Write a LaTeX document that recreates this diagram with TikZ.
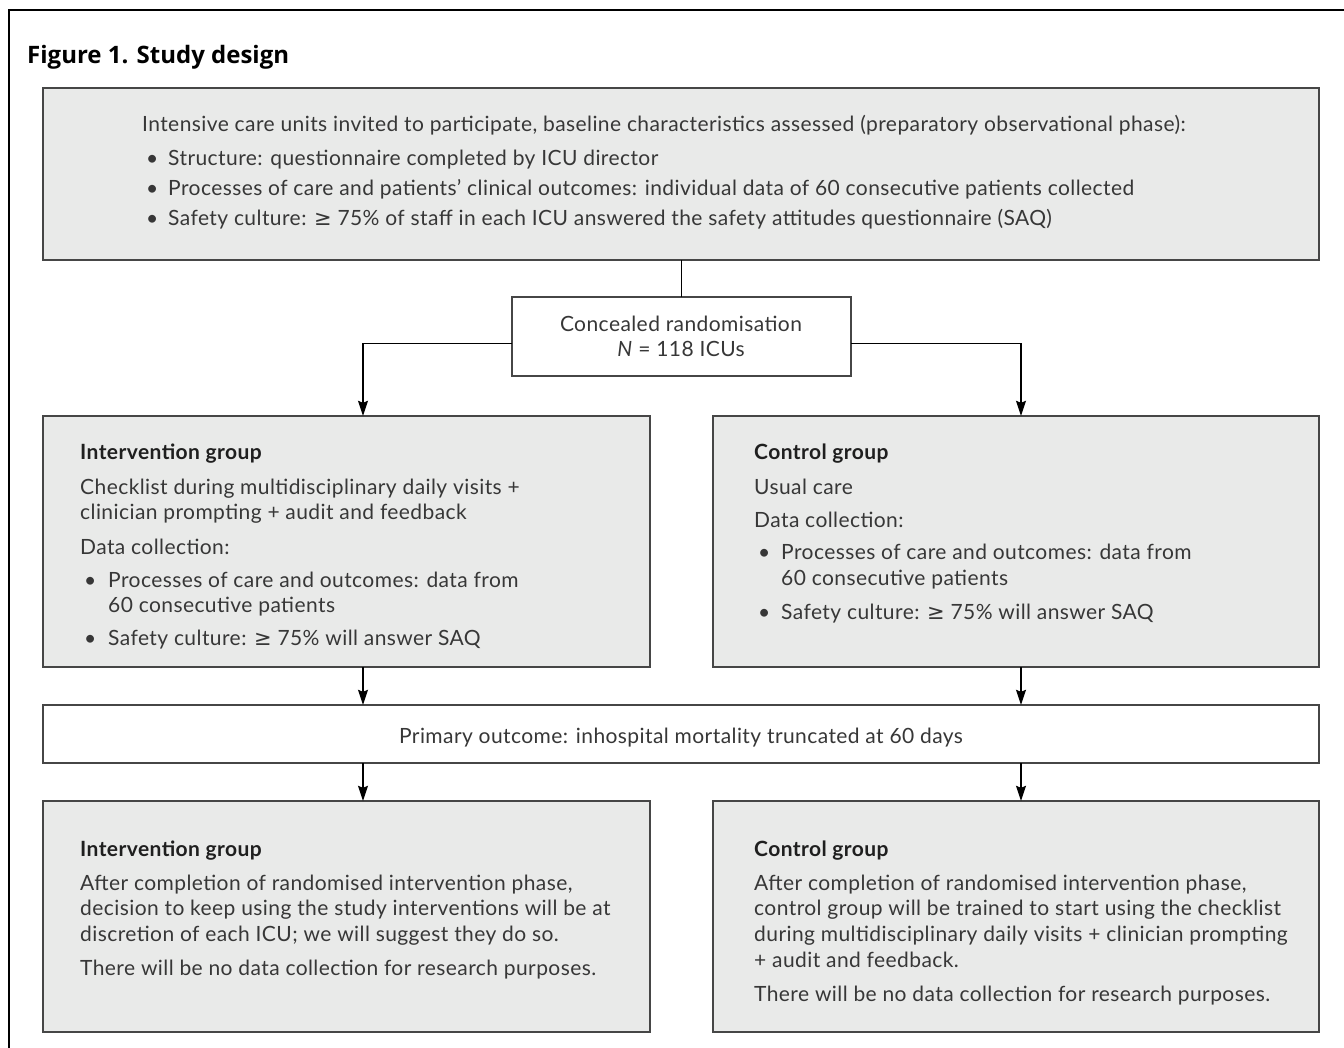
\documentclass[tikz,border=0pt]{standalone}
\usepackage{fontspec}
\setmainfont{Lato}[LetterSpace=2]
\newfontfamily\titlefont{Open Sans}
\newfontfamily\symfont{DejaVu Sans}
\usetikzlibrary{arrows.meta,calc}
\definecolor{boxfill}{RGB}{233,234,233}
\definecolor{boxline}{RGB}{70,70,70}
\definecolor{txt}{RGB}{55,55,55}
\newcommand{\gesym}{{\symfont ≥}}
\tikzset{
  graybox/.style={draw=boxline, line width=1.5pt, fill=boxfill},
  whitebox/.style={draw=boxline, line width=1.5pt, fill=white},
  tl/.style={anchor=base west, inner sep=0pt, text=txt, font=\fontsize{21}{24}\selectfont},
  tc/.style={anchor=base, inner sep=0pt, text=txt, font=\fontsize{21}{24}\selectfont},
  th/.style={anchor=base west, inner sep=0pt, text=black!88, font=\fontsize{21}{24}\selectfont\bfseries},
  conn/.style={line width=1.1pt, draw=black},
  arr/.style={conn, -{Stealth[length=15pt,width=10pt,inset=2pt]}},
  frame/.style={line width=2pt, draw=black}
}
\begin{document}
\begin{tikzpicture}[x=1pt,y=-1pt]
\useasboundingbox (0,0) rectangle (1344,1048);
% outer frame (cropped)
\coordinate (f1) at (1344,10);
\coordinate (f0) at (9,10);
\coordinate (f2) at (9,1048);
\draw[frame] (f1) -- (f0) -- (f2);
\node[anchor=base west, inner sep=0pt, font=\fontsize{24}{28}\selectfont\titlefont\bfseries] (title) at (27,64) {Figure 1. Study design};

% boxes
\draw[graybox] (43,88) rectangle (1319,260);
\node[inner sep=0pt, minimum width=1276pt, minimum height=172pt] (top) at (681,174) {};
\draw[whitebox] (512,297) rectangle (851,376);
\node[inner sep=0pt, minimum width=339pt, minimum height=79pt] (rand) at (681.5,336.5) {};
\draw[graybox] (43,416) rectangle (650,667);
\node[inner sep=0pt, minimum width=607pt, minimum height=251pt] (intL) at (346.5,541.5) {};
\draw[graybox] (713,416) rectangle (1319,667);
\node[inner sep=0pt, minimum width=606pt, minimum height=251pt] (conR) at (1016,541.5) {};
\draw[whitebox] (43,705) rectangle (1319,763);
\node[inner sep=0pt, minimum width=1276pt, minimum height=58pt] (prim) at (681,734) {};
\draw[graybox] (43,801) rectangle (650,1032);
\node[inner sep=0pt, minimum width=607pt, minimum height=231pt] (intL2) at (346.5,916.5) {};
\draw[graybox] (713,801) rectangle (1319,1032);
\node[inner sep=0pt, minimum width=606pt, minimum height=231pt] (conR2) at (1016,916.5) {};

% top box text
\node[tl] (a0) at (142,132) {Intensive care units invited to participate, baseline characteristics assessed (preparatory observational phase):};
\node[tl] (a1b) at (146,166) {\textbullet};
\node[tl] (a1) at (168,166) {Structure: questionnaire completed by ICU director};
\node[tl] (a2b) at (146,196) {\textbullet};
\node[tl] (a2) at (168,196) {Processes of care and patients’ clinical outcomes: individual data of 60 consecutive patients collected};
\node[tl] (a3b) at (146,226) {\textbullet};
\node[tl] (a3) at (168,226) {Safety culture: \gesym\ 75\% of staff in each ICU answered the safety attitudes questionnaire (SAQ)};

% randomisation
\node[tc] (r1) at (681,332) {Concealed randomisation};
\node[tc] (r2) at (681,357) {\textit{N} = 118 ICUs};

% intervention group (middle)
\node[th] (b0) at (80,459) {Intervention group};
\node[tl] (b1) at (80,494) {Checklist during multidisciplinary daily visits +};
\node[tl] (b2) at (80,519) {clinician prompting + audit and feedback};
\node[tl] (b3) at (80,554) {Data collection:};
\node[tl] (b4b) at (84,587) {\textbullet};
\node[tl] (b4) at (108,587) {Processes of care and outcomes: data from};
\node[tl] (b5) at (108,612) {60 consecutive patients};
\node[tl] (b6b) at (84,645) {\textbullet};
\node[tl] (b6) at (108,645) {Safety culture: \gesym\ 75\% will answer SAQ};

% control group (middle)
\node[th] (c0) at (754,459) {Control group};
\node[tl] (c1) at (754,494) {Usual care};
\node[tl] (c2) at (754,527) {Data collection:};
\node[tl] (c3b) at (758,559) {\textbullet};
\node[tl] (c3) at (781,559) {Processes of care and outcomes: data from};
\node[tl] (c4) at (781,585) {60 consecutive patients};
\node[tl] (c5b) at (758,619) {\textbullet};
\node[tl] (c5) at (781,619) {Safety culture: \gesym\ 75\% will answer SAQ};

% primary outcome
\node[tc] (p1) at (681,743) {Primary outcome: inhospital mortality truncated at 60 days};

% bottom intervention
\node[th] (d0) at (80,856) {Intervention group};
\node[tl] (d1) at (80,890) {After completion of randomised intervention phase,};
\node[tl] (d2) at (80,915) {decision to keep using the study interventions will be at};
\node[tl] (d3) at (80,941) {discretion of each ICU; we will suggest they do so.};
\node[tl] (d4) at (80,975) {There will be no data collection for research purposes.};

% bottom control
\node[th] (e0) at (754,856) {Control group};
\node[tl] (e1) at (754,890) {After completion of randomised intervention phase,};
\node[tl] (e2) at (754,915) {control group will be trained to start using the checklist};
\node[tl] (e3) at (754,941) {during multidisciplinary daily visits + clinician prompting};
\node[tl] (e4) at (754,967) {+ audit and feedback.};
\node[tl] (e5) at (754,1001) {There will be no data collection for research purposes.};

% connectors
\coordinate (cL) at (363,0);
\coordinate (cR) at (1021,0);
\draw[conn] (top.south -| rand.north) -- (rand.north);
\draw[arr] ([yshift=-7pt]rand.west) -| (intL.north -| cL);
\draw[arr] ([yshift=-7pt]rand.east) -| (conR.north -| cR);
\draw[arr] (intL.south -| cL) -- (prim.north -| cL);
\draw[arr] (conR.south -| cR) -- (prim.north -| cR);
\draw[arr] (prim.south -| cL) -- (intL2.north -| cL);
\draw[arr] (prim.south -| cR) -- (conR2.north -| cR);
\end{tikzpicture}
\end{document}
